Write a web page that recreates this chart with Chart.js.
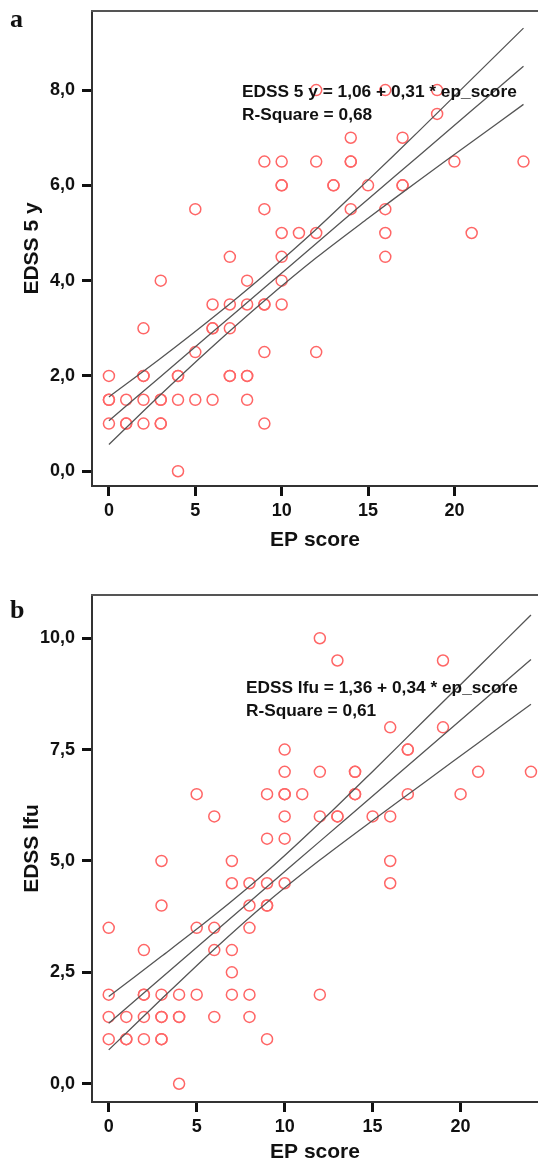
<!DOCTYPE html>
<html>
<head>
<meta charset="utf-8">
<script src="https://cdn.jsdelivr.net/npm/chart.js@4.4.0/dist/chart.umd.min.js"></script>
<style>
  html, body { margin: 0; padding: 0; background: #fff; }
  body { width: 538px; height: 1165px; position: relative; overflow: hidden; font-family: 'Liberation Sans', Arial, sans-serif; }
  canvas { position: absolute; left: 0; }
  #chartA { top: 0; }
  #chartB { top: 560px; }
  .panel { position: absolute; left: 10px; font: bold 26px 'Liberation Serif', 'Times New Roman', serif; line-height: 26px; color: #111; }
  .eq { position: absolute; font-weight: bold; font-size: 17.3px; line-height: 23px; color: #111; white-space: pre; }
</style>
</head>
<body>
<canvas id="chartA" width="538" height="560"></canvas>
<canvas id="chartB" width="538" height="605"></canvas>
<div class="panel" style="top:6px">a</div>
<div class="panel" style="top:597px">b</div>
<div class="eq" style="left:242px; top:80px">EDSS 5 y = 1,06 + 0,31 * ep_score
R-Square = 0,68</div>
<div class="eq" style="left:246px; top:676px">EDSS lfu = 1,36 + 0,34 * ep_score
R-Square = 0,61</div>
<script>
const FONT = "'Liberation Sans', Arial, sans-serif";

const xTicks = [0, 5, 10, 15, 20];
const fitX = [0, 3, 6, 9, 12, 15, 18, 21, 24];

// panel a: EDSS at 5 years vs EP score
const aEP = [0, 0, 0, 0, 1, 1, 1, 2, 2, 2, 2, 2, 3, 3, 3, 3, 3, 4, 4, 4, 4, 5, 5, 5,
  6, 6, 6, 6, 7, 7, 7, 7, 7, 8, 8, 8, 8, 8, 9, 9, 9, 9, 9, 9, 10, 10, 10, 10, 10, 10, 10,
  11, 12, 12, 12, 12, 13, 13, 14, 14, 14, 14, 15, 16, 16, 16, 16, 17, 17, 17, 19, 19, 20, 21, 24];
const aEDSS = [2, 1.5, 1.5, 1, 1.5, 1, 1, 3, 2, 2, 1.5, 1, 4, 1.5, 1.5, 1, 1, 2, 2, 1.5, 0, 5.5, 2.5, 1.5,
  3.5, 3, 3, 1.5, 4.5, 3.5, 3, 2, 2, 4, 3.5, 2, 2, 1.5, 6.5, 5.5, 3.5, 3.5, 2.5, 1, 6.5, 6, 6, 5, 4.5, 4, 3.5,
  5, 8, 6.5, 5, 2.5, 6, 6, 7, 6.5, 6.5, 5.5, 6, 8, 5.5, 5, 4.5, 7, 6, 6, 8, 7.5, 6.5, 5, 6.5];
const aFit = [1.06, 1.99, 2.92, 3.85, 4.78, 5.71, 6.64, 7.57, 8.50];
const aUpper = [1.56, 2.37, 3.22, 4.12, 5.08, 6.11, 7.16, 8.23, 9.30];
const aLower = [0.56, 1.61, 2.62, 3.58, 4.48, 5.31, 6.12, 6.91, 7.70];
const aYTicks = [0, 2, 4, 6, 8];

// panel b: EDSS at last follow-up vs EP score
const bEP = [0, 0, 0, 0, 1, 1, 1, 2, 2, 2, 2, 2, 3, 3, 3, 3, 3, 3, 3, 4, 4, 4, 4, 5, 5, 5,
  6, 6, 6, 6, 7, 7, 7, 7, 7, 8, 8, 8, 8, 8, 9, 9, 9, 9, 9, 9, 10, 10, 10, 10, 10, 10, 10,
  11, 12, 12, 12, 12, 13, 13, 13, 14, 14, 14, 14, 15, 16, 16, 16, 16, 17, 17, 17, 19, 19, 20, 21, 24];
const bEDSS = [3.5, 2, 1.5, 1, 1.5, 1, 1, 3, 2, 2, 1.5, 1, 5, 4, 2, 1.5, 1.5, 1, 1, 2, 1.5, 1.5, 0, 6.5, 3.5, 2,
  6, 3.5, 3, 1.5, 5, 4.5, 3, 2.5, 2, 4.5, 4, 3.5, 2, 1.5, 6.5, 5.5, 4.5, 4, 4, 1, 7.5, 7, 6.5, 6.5, 6, 5.5, 4.5,
  6.5, 10, 7, 6, 2, 9.5, 6, 6, 7, 7, 6.5, 6.5, 6, 8, 6, 5, 4.5, 7.5, 7.5, 6.5, 9.5, 8, 6.5, 7, 7];
const bFit = [1.36, 2.38, 3.40, 4.42, 5.44, 6.46, 7.48, 8.50, 9.52];
const bUpper = [1.96, 2.86, 3.78, 4.77, 5.86, 7.01, 8.18, 9.35, 10.52];
const bLower = [0.76, 1.90, 3.02, 4.07, 5.02, 5.91, 6.78, 7.65, 8.52];
const bYTicks = [0, 2.5, 5, 7.5, 10];

const topFrame = {
  id: 'topFrame',
  afterDraw(chart) {
    const { ctx, chartArea: a } = chart;
    ctx.save();
    ctx.strokeStyle = '#555';
    ctx.lineWidth = 2;
    ctx.beginPath();
    ctx.moveTo(a.left - 1, a.top);
    ctx.lineTo(a.right, a.top);
    ctx.stroke();
    ctx.restore();
  },
};

function lineSet(ys) {
  return {
    type: 'line',
    data: fitX.map((x, i) => ({ x, y: ys[i] })),
    borderColor: '#555',
    borderWidth: 1.3,
    pointRadius: 0,
    tension: 0.3,
    fill: false,
  };
}

function makeChart(id, o) {
  const points = o.ep.map((x, i) => ({ x, y: o.edss[i] }));
  return new Chart(document.getElementById(id), {
    type: 'scatter',
    data: {
      datasets: [
        lineSet(o.upper),
        lineSet(o.fit),
        lineSet(o.lower),
        {
          data: points,
          pointRadius: 5.5,
          pointBorderWidth: 1.5,
          pointBorderColor: '#ff6666',
          pointBackgroundColor: 'rgba(0,0,0,0)',
          clip: false,
        },
      ],
    },
    options: {
      responsive: false,
      animation: false,
      layout: { autoPadding: false, padding: { top: o.padTop, left: 0, right: 0, bottom: 0 } },
      plugins: { legend: { display: false }, tooltip: { enabled: false } },
      scales: {
        x: {
          type: 'linear',
          min: o.xMin,
          max: o.xMax,
          afterBuildTicks: s => { s.ticks = xTicks.map(v => ({ value: v })); },
          afterFit: s => { s.height = o.axisH; s.paddingLeft = 0; s.paddingRight = 0; },
          ticks: { color: '#111', padding: 4, font: { family: FONT, size: 18, weight: 'bold' } },
          grid: { drawOnChartArea: false, drawTicks: true, tickLength: 10, tickWidth: 3, tickColor: '#111' },
          border: { display: true, color: '#333', width: 2 },
          title: {
            display: true, text: 'EP score', color: '#111',
            font: { family: FONT, size: 21, weight: 'bold' },
            padding: { top: 0, bottom: o.titlePad },
          },
        },
        y: {
          type: 'linear',
          min: o.yMin,
          max: o.yMax,
          afterBuildTicks: s => { s.ticks = o.yTicks.map(v => ({ value: v })); },
          afterFit: s => { s.width = 92; s.paddingTop = 0; s.paddingBottom = 0; },
          ticks: {
            color: '#111', padding: 7,
            font: { family: FONT, size: 18, weight: 'bold' },
            callback: v => v.toFixed(1).replace('.', ','),
          },
          grid: { drawOnChartArea: false, drawTicks: true, tickLength: 10, tickWidth: 3, tickColor: '#111' },
          border: { display: true, color: '#333', width: 2 },
          title: {
            display: true, text: o.yTitle, color: '#111',
            font: { family: FONT, size: 21, weight: 'bold' },
            padding: { top: 20, bottom: 0 },
          },
        },
      },
    },
    plugins: [topFrame],
  });
}

makeChart('chartA', {
  ep: aEP, edss: aEDSS, fit: aFit, upper: aUpper, lower: aLower, yTicks: aYTicks,
  xMin: -0.98, xMax: 24.84, yMin: -0.31, yMax: 9.66,
  yTitle: 'EDSS 5 y', padTop: 11, axisH: 74, titlePad: 7,
});

makeChart('chartB', {
  ep: bEP, edss: bEDSS, fit: bFit, upper: bUpper, lower: bLower, yTicks: bYTicks,
  xMin: -0.95, xMax: 24.4, yMin: -0.41, yMax: 10.97,
  yTitle: 'EDSS lfu', padTop: 35, axisH: 63, titlePad: 0,
});
</script>
</body>
</html>
